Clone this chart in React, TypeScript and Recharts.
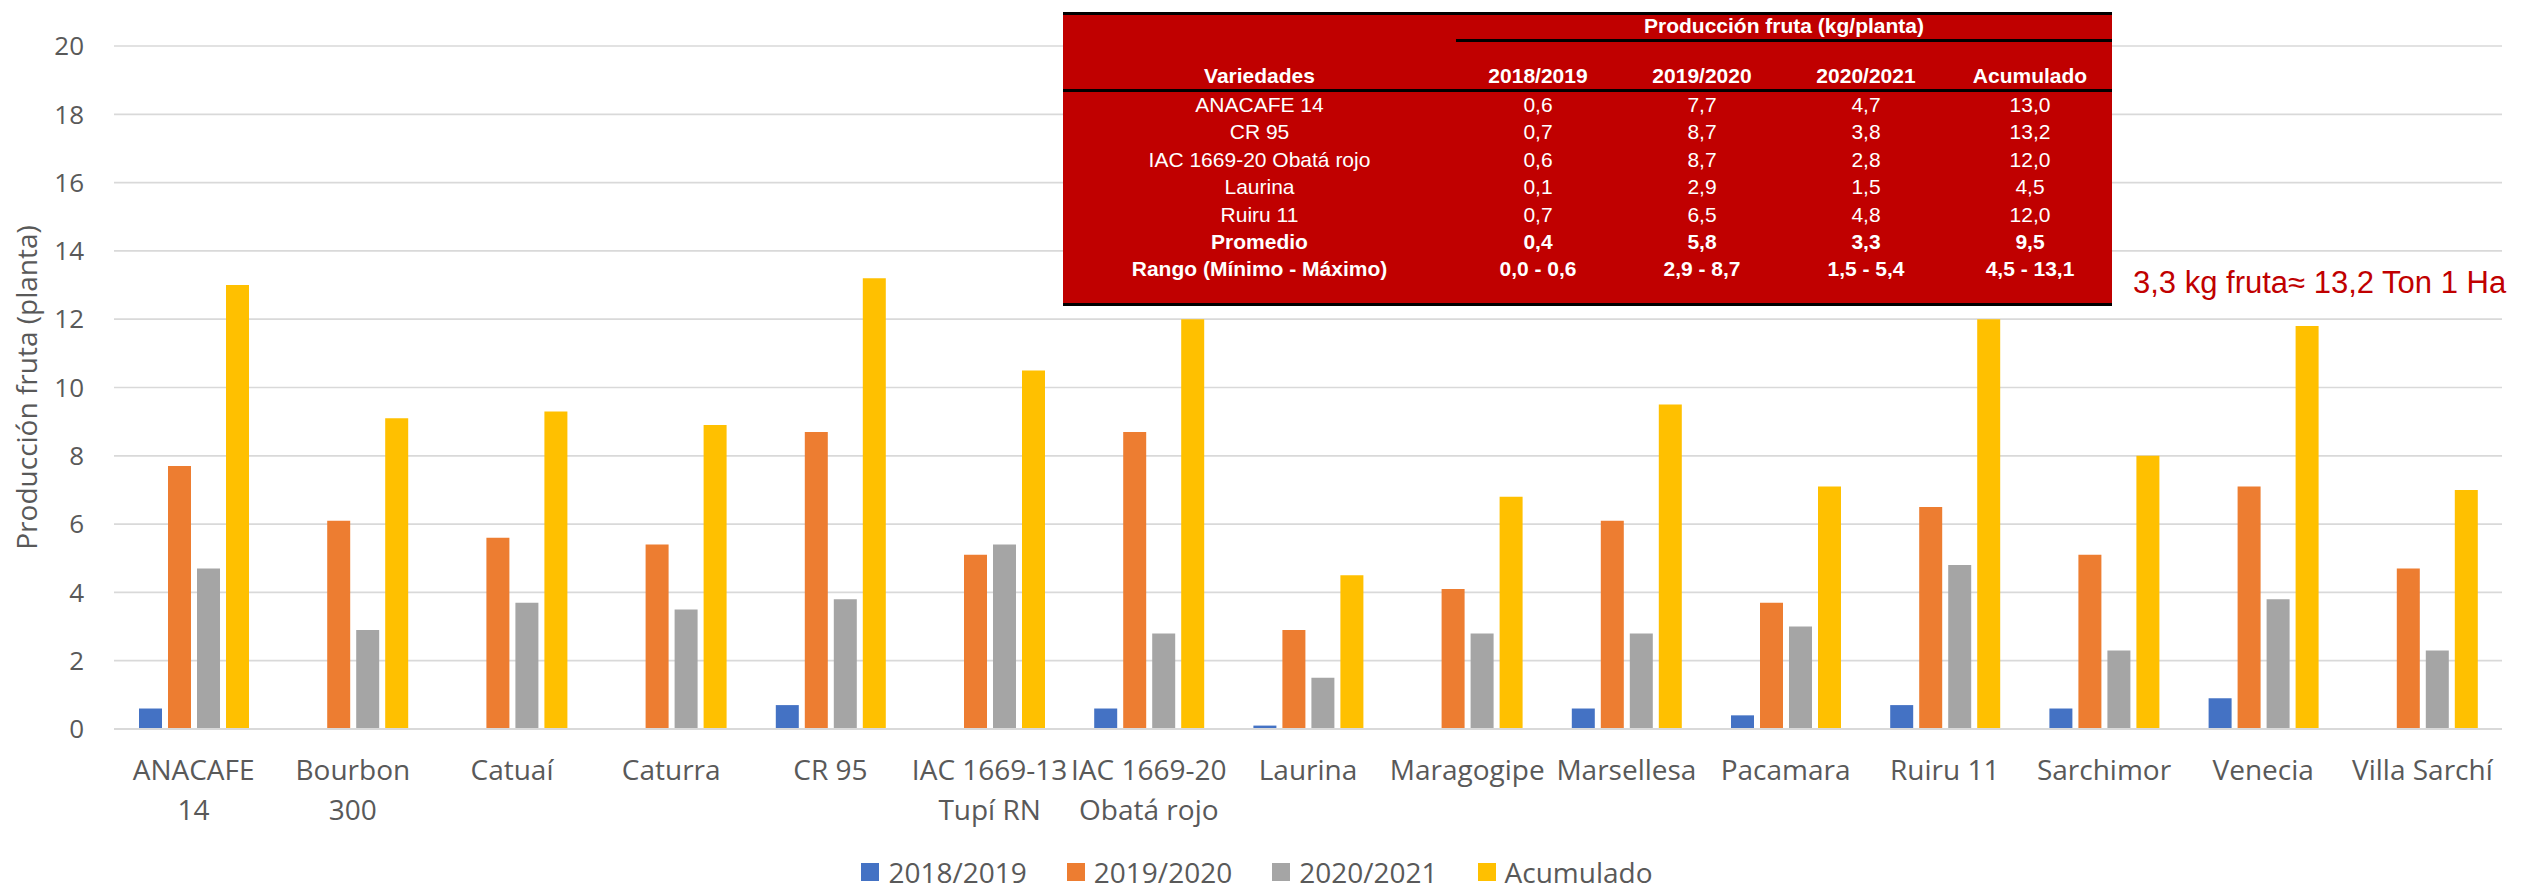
import { BarChart, Bar, XAxis, YAxis, CartesianGrid, Legend } from 'recharts';

// Variedades evaluadas (eje X)
const categories = [
  'ANACAFE 14', 'Bourbon 300', 'Catuaí', 'Caturra', 'CR 95', 'IAC 1669-13 Tupí RN',
  'IAC 1669-20 Obatá rojo', 'Laurina', 'Maragogipe', 'Marsellesa', 'Pacamara',
  'Ruiru 11', 'Sarchimor', 'Venecia', 'Villa Sarchí',
];

// etiquetas del eje partidas en líneas
const tickLabels = [
  ['ANACAFE', '14'], ['Bourbon', '300'], ['Catuaí'], ['Caturra'], ['CR 95'],
  ['IAC 1669-13', 'Tupí RN'], ['IAC 1669-20', 'Obatá rojo'], ['Laurina'], ['Maragogipe'],
  ['Marsellesa'], ['Pacamara'], ['Ruiru 11'], ['Sarchimor'], ['Venecia'], ['Villa Sarchí'],
];

// kg fruta / planta por cosecha
const cosecha1819 = [0.6, 0, 0, 0, 0.7, 0, 0.6, 0.1, 0, 0.6, 0.4, 0.7, 0.6, 0.9, 0];
const cosecha1920 = [7.7, 6.1, 5.6, 5.4, 8.7, 5.1, 8.7, 2.9, 4.1, 6.1, 3.7, 6.5, 5.1, 7.1, 4.7];
const cosecha2021 = [4.7, 2.9, 3.7, 3.5, 3.8, 5.4, 2.8, 1.5, 2.8, 2.8, 3.0, 4.8, 2.3, 3.8, 2.3];
const acumulado = [13.0, 9.1, 9.3, 8.9, 13.2, 10.5, 12.0, 4.5, 6.8, 9.5, 7.1, 12.0, 8.0, 11.8, 7.0];

const yTicks = [0, 2, 4, 6, 8, 10, 12, 14, 16, 18, 20];

// tabla resumen
const tableColumns = ['2018/2019', '2019/2020', '2020/2021', 'Acumulado'];
const tableVarieties = ['ANACAFE 14', 'CR 95', 'IAC 1669-20 Obatá rojo', 'Laurina', 'Ruiru 11', 'Promedio', 'Rango (Mínimo - Máximo)'];
const tableValues = [
  ['0,6', '7,7', '4,7', '13,0'],
  ['0,7', '8,7', '3,8', '13,2'],
  ['0,6', '8,7', '2,8', '12,0'],
  ['0,1', '2,9', '1,5', '4,5'],
  ['0,7', '6,5', '4,8', '12,0'],
  ['0,4', '5,8', '3,3', '9,5'],
  ['0,0 - 0,6', '2,9 - 8,7', '1,5 - 5,4', '4,5 - 13,1'],
];
const boldRows = ['Promedio', 'Rango (Mínimo - Máximo)'];

const series = [
  { key: 'c1819', name: '2018/2019', color: '#4472C4' },
  { key: 'c1920', name: '2019/2020', color: '#ED7D31' },
  { key: 'c2021', name: '2020/2021', color: '#A5A5A5' },
  { key: 'acum', name: 'Acumulado', color: '#FFC000' },
];

const data = categories.map((name, i) => ({
  name,
  c1819: cosecha1819[i],
  c1920: cosecha1920[i],
  c2021: cosecha2021[i],
  acum: acumulado[i],
}));

const TEXT = '#595959';
const FONT = '"Open Sans", sans-serif';
const TABLE_FONT = '"Liberation Sans", Arial, sans-serif';

function CategoryTick({ x, y, payload }: any) {
  const idx = categories.indexOf(payload.value);
  const lines = idx >= 0 ? tickLabels[idx] : [payload.value];
  return (
    <g transform={`translate(${x},${y})`}>
      {lines.map((line: string, i: number) => (
        <text key={i} x={0} y={51 + i * 40} textAnchor="middle" fill={TEXT} fontSize={28} fontFamily={FONT}>
          {line}
        </text>
      ))}
    </g>
  );
}

function LegendContent() {
  return (
    <div style={{ display: 'flex', justifyContent: 'center', alignItems: 'center', lineHeight: '28px' }}>
      {series.map((s, i) => (
        <div key={s.key} style={{ display: 'flex', alignItems: 'center', marginRight: i < series.length - 1 ? 40 : 0 }}>
          <span style={{ width: 18, height: 18, background: s.color, marginRight: 9, display: 'inline-block' }} />
          <span style={{ fontFamily: FONT, fontSize: 28, color: TEXT }}>{s.name}</span>
        </div>
      ))}
    </div>
  );
}

function SummaryTable() {
  const left = 1063;
  const top = 12;
  const width = 1049;
  const firstCol = 393;
  const colW = (width - firstCol) / tableColumns.length;
  const colX = (c: number) => left + firstCol + colW * c + colW / 2;
  const rowBase = (r: number) => top + 100 + r * 27.4;
  return (
    <g fontFamily={TABLE_FONT} fill="#fff">
      <rect x={left} y={top} width={width} height={294} fill="#C00000" />
      <rect x={left} y={top} width={width} height={3} fill="#000" />
      <rect x={left} y={top + 291} width={width} height={3} fill="#000" />
      <text x={left + firstCol + (width - firstCol) / 2} y={top + 21} textAnchor="middle" fontSize={21} fontWeight="bold">
        Producción fruta (kg/planta)
      </text>
      <rect x={left + firstCol} y={top + 27} width={width - firstCol} height={3} fill="#000" />
      <text x={left + firstCol / 2} y={top + 71} textAnchor="middle" fontSize={21} fontWeight="bold">
        Variedades
      </text>
      {tableColumns.map((col, c) => (
        <text key={col} x={colX(c)} y={top + 71} textAnchor="middle" fontSize={21} fontWeight="bold">
          {col}
        </text>
      ))}
      <rect x={left} y={top + 77} width={width} height={3} fill="#000" />
      {tableVarieties.map((v, r) => {
        const bold = boldRows.includes(v) ? 'bold' : 'normal';
        return (
          <g key={v} fontWeight={bold} fontSize={21}>
            <text x={left + firstCol / 2} y={rowBase(r)} textAnchor="middle">{v}</text>
            {tableValues[r].map((val, c) => (
              <text key={c} x={colX(c)} y={rowBase(r)} textAnchor="middle">{val}</text>
            ))}
          </g>
        );
      })}
    </g>
  );
}

export default function App() {
  return (
    <div style={{ position: 'relative', width: 2524, height: 888, background: '#fff' }}>
      <style>{'body{margin:0}'}</style>
      <BarChart
        width={2524}
        height={888}
        data={data}
        margin={{ top: 46, right: 22, bottom: 0, left: 0 }}
        barSize={23}
        barGap={6}
      >
        <CartesianGrid vertical={false} stroke="#D9D9D9" strokeWidth={1.7} />
        <XAxis
          dataKey="name"
          height={159}
          interval={0}
          tickLine={false}
          tickSize={0}
          tickMargin={0}
          axisLine={{ stroke: '#D9D9D9', strokeWidth: 2 }}
          tick={<CategoryTick />}
        />
        <YAxis
          width={114}
          domain={[0, 20]}
          ticks={yTicks}
          axisLine={false}
          tickLine={false}
          tickSize={0}
          tickMargin={30}
          tick={{ fill: TEXT, fontSize: 26, fontFamily: FONT }}
          label={({ viewBox }: any) => (
            <text
              transform={`translate(${viewBox.x + 26},${viewBox.y + viewBox.height / 2}) rotate(-90)`}
              textAnchor="middle"
              dominantBaseline="central"
              fill={TEXT}
              fontSize={28}
              fontFamily={FONT}
            >
              Producción fruta (planta)
            </text>
          )}
        />
        <Legend
          layout="horizontal"
          verticalAlign="middle"
          align="center"
          wrapperStyle={{ top: 858, left: 0, width: 2514 }}
          content={<LegendContent />}
        />
        {series.map((s) => (
          <Bar key={s.key} dataKey={s.key} name={s.name} fill={s.color} isAnimationActive={false} />
        ))}
      </BarChart>
      <svg width={2524} height={888} style={{ position: 'absolute', left: 0, top: 0, pointerEvents: 'none' }}>
        <SummaryTable />
        <text x={2133} y={293} fill="#C00000" fontSize={31} fontFamily={TABLE_FONT}>
          3,3 kg fruta≈ 13,2 Ton 1 Ha
        </text>
      </svg>
    </div>
  );
}
